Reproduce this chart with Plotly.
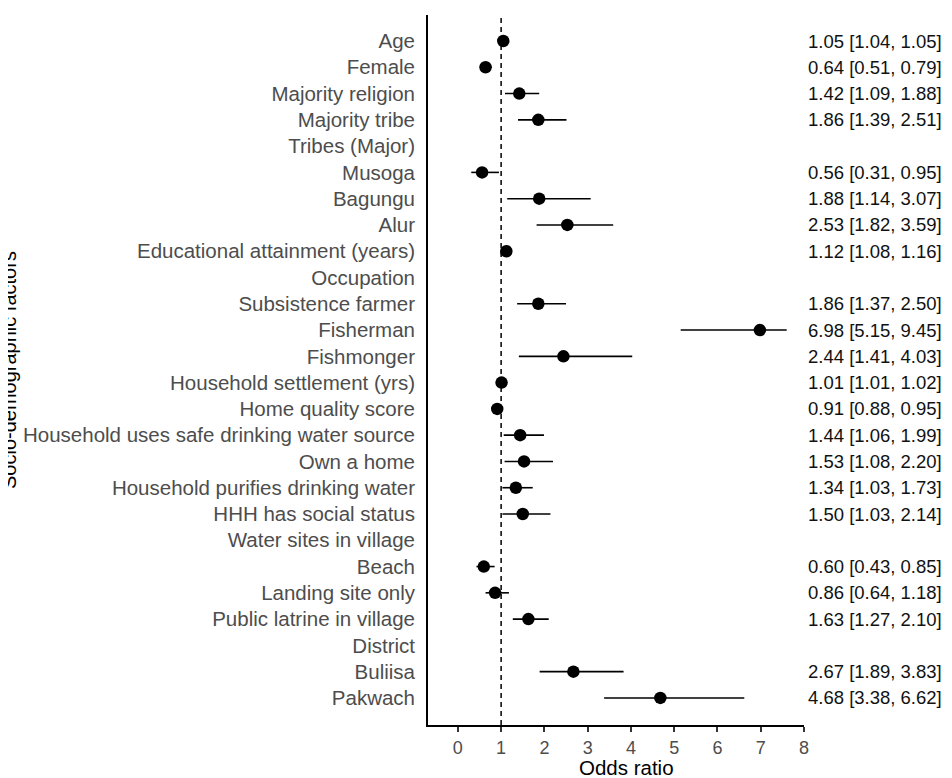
import plotly.graph_objects as go

# ---- data ----
factors = [
    "Age", "Female", "Majority religion", "Majority tribe", "Tribes (Major)",
    "Musoga", "Bagungu", "Alur", "Educational attainment (years)", "Occupation",
    "Subsistence farmer", "Fisherman", "Fishmonger", "Household settlement (yrs)",
    "Home quality score", "Household uses safe drinking water source", "Own a home",
    "Household purifies drinking water", "HHH has social status", "Water sites in village",
    "Beach", "Landing site only", "Public latrine in village", "District",
    "Buliisa", "Pakwach",
]
odds_ratio = [1.05, 0.64, 1.42, 1.86, None, 0.56, 1.88, 2.53, 1.12, None,
              1.86, 6.98, 2.44, 1.01, 0.91, 1.44, 1.53, 1.34, 1.50, None,
              0.60, 0.86, 1.63, None, 2.67, 4.68]
ci_low = [1.04, 0.51, 1.09, 1.39, None, 0.31, 1.14, 1.82, 1.08, None,
          1.37, 5.15, 1.41, 1.01, 0.88, 1.06, 1.08, 1.03, 1.03, None,
          0.43, 0.64, 1.27, None, 1.89, 3.38]
ci_high = [1.05, 0.79, 1.88, 2.51, None, 0.95, 3.07, 3.59, 1.16, None,
           2.50, 9.45, 4.03, 1.02, 0.95, 1.99, 2.20, 1.73, 2.14, None,
           0.85, 1.18, 2.10, None, 3.83, 6.62]
x_ticks = [0, 1, 2, 3, 4, 5, 6, 7, 8]
ci_display_cap = 7.6  # CI whiskers are truncated here in the original

n = len(factors)
ypos = [n - 1 - i for i in range(n)]

ex_plus, ex_minus = [], []
for o, lo, hi in zip(odds_ratio, ci_low, ci_high):
    if o is None:
        ex_plus.append(None)
        ex_minus.append(None)
    else:
        ex_plus.append(min(hi, ci_display_cap) - o)
        ex_minus.append(o - lo)

FONT = "Liberation Sans, Arial, sans-serif"
OFF = 8  # page body margin
W, H = 952 - OFF, 778 - OFF
L, T = 428 - OFF, 15 - OFF
R = W - (804 - OFF)
B = H - (725 - OFF)
pw = W - L - R
ph = H - T - B


def px_x(px):
    return (px - OFF - L) / pw


def px_y(py):
    return ((H - B) - (py - OFF)) / ph


fig = go.Figure()
fig.add_trace(go.Scatter(
    x=odds_ratio, y=ypos, mode="markers",
    marker=dict(color="black", size=12.5),
    error_x=dict(type="data", symmetric=False, array=ex_plus, arrayminus=ex_minus,
                 color="black", thickness=1.6, width=0),
    showlegend=False, hoverinfo="skip",
))

fig.add_shape(type="line", xref="x", yref="paper", x0=1, x1=1, y0=0, y1=1,
              line=dict(color="black", width=1.5, dash="5px,4px"))

for o, lo, hi, y in zip(odds_ratio, ci_low, ci_high, ypos):
    if o is None:
        continue
    fig.add_annotation(x=px_x(806), xref="paper", y=y, yref="y",
                       text=f"{o:.2f} [{lo:.2f}, {hi:.2f}]", showarrow=False,
                       xanchor="left", yanchor="middle",
                       font=dict(family=FONT, size=18.5, color="#111111"))

fig.add_annotation(x=px_x(626), xref="paper", y=px_y(767), yref="paper",
                   text="Odds ratio", showarrow=False, xanchor="center", yanchor="middle",
                   font=dict(family=FONT, size=20.5, color="black"))
fig.add_annotation(x=px_x(9), xref="paper", y=px_y(370), yref="paper",
                   text="Socio-demographic factors", showarrow=False, textangle=-90,
                   xanchor="center", yanchor="middle",
                   font=dict(family=FONT, size=20, color="black"))

fig.update_layout(
    width=W, height=H,
    margin=dict(l=L, r=R, t=T, b=B),
    plot_bgcolor="white", paper_bgcolor="white",
    font=dict(family=FONT),
    xaxis=dict(range=[-0.69, 8.0], tickvals=x_ticks, ticktext=[str(t) for t in x_ticks],
               showgrid=False, zeroline=False, showline=True, linecolor="black", linewidth=1.8,
               ticks="outside", ticklen=5, tickwidth=1.5, tickcolor="#333333",
               tickfont=dict(size=18, color="#4d4d4d")),
    yaxis=dict(range=[-1.03, n - 1 + 0.99], tickvals=ypos, ticktext=factors,
               showgrid=False, zeroline=False, showline=True, linecolor="black", linewidth=1.8,
               ticks="", ticklabelstandoff=7,
               tickfont=dict(size=20.5, color="#4d4d4d")),
)

fig.write_html("out.html")
